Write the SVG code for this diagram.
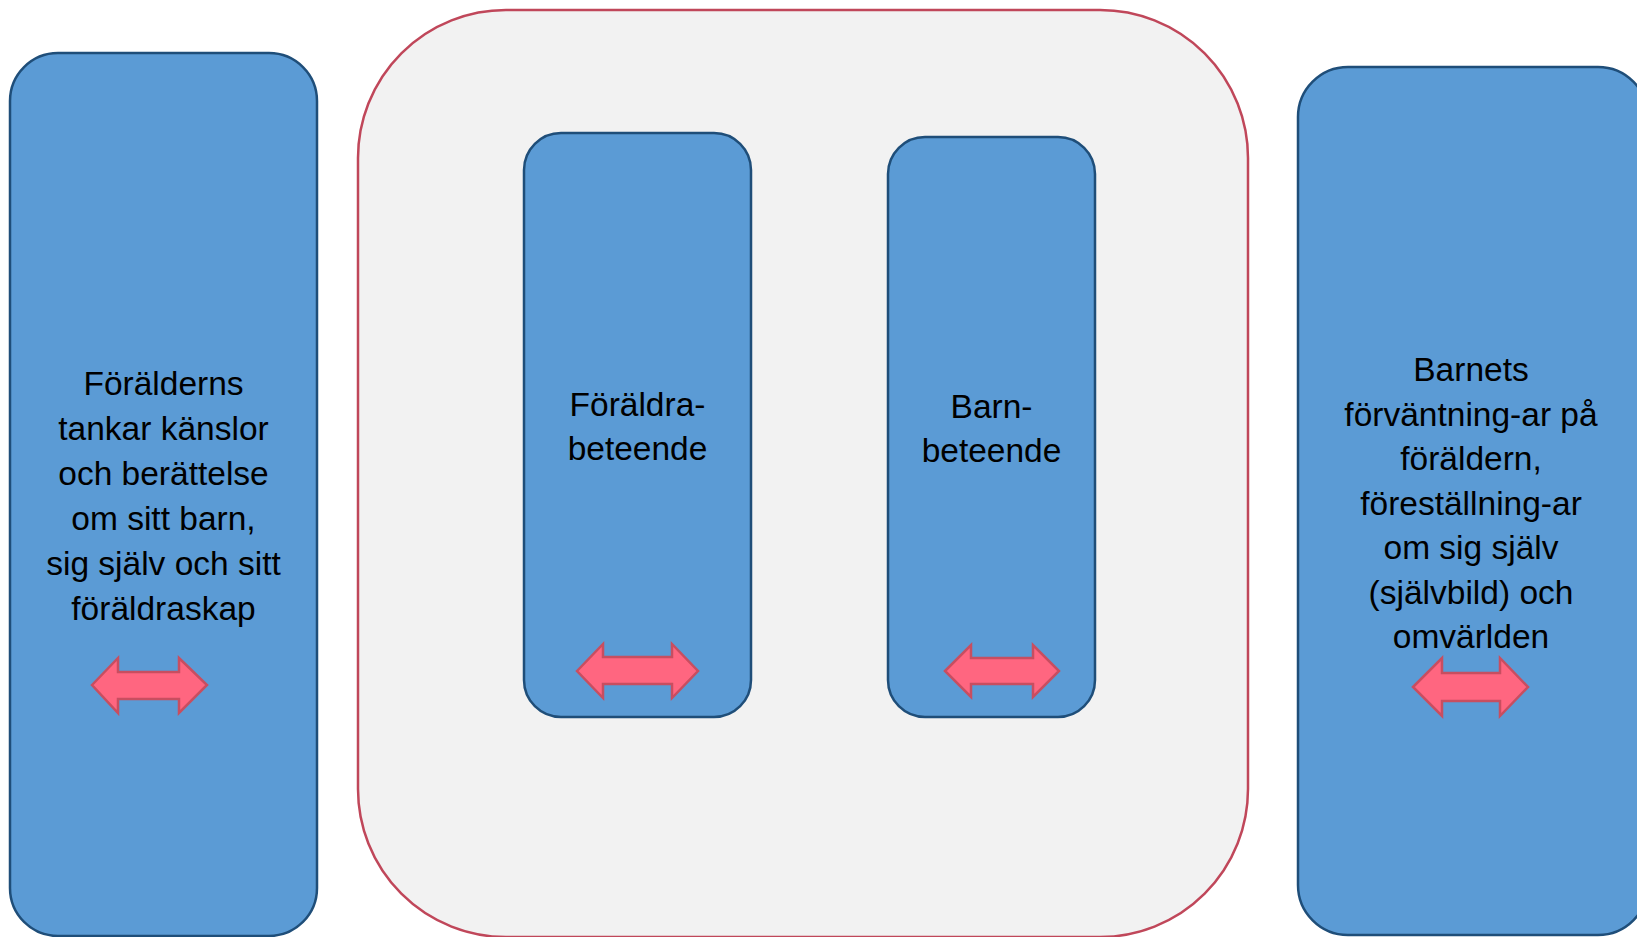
<svg xmlns="http://www.w3.org/2000/svg" width="1637" height="937" viewBox="0 0 1637 937">
<style>
.box{fill:#5B9BD5;stroke:#1F4E79;stroke-width:2.5}
.cont{fill:#F2F2F2;stroke:#C0475A;stroke-width:2.5}
.arr{fill:#FF6680;stroke:#C84E60;stroke-width:2.5;stroke-linejoin:miter}
.t{font-family:"Liberation Sans",Arial,sans-serif;font-size:33.5px;fill:#000;text-anchor:middle}
</style>
<rect width="1637" height="937" fill="#FFFFFF"/>
<g id="container">
<rect class="cont" x="358" y="10" width="890" height="927" rx="148" ry="148"/>
</g>
<g id="left">
<rect class="box" x="10" y="53" width="307" height="883" rx="48" ry="48"/>
<text class="t" x="163.5" y="395">Förälderns</text>
<text class="t" x="163.5" y="440">tankar känslor</text>
<text class="t" x="163.5" y="485">och berättelse</text>
<text class="t" x="163.5" y="530">om sitt barn,</text>
<text class="t" x="163.5" y="575">sig själv och sitt</text>
<text class="t" x="163.5" y="620">föräldraskap</text>
</g>
<g id="foraldra">
<rect class="box" x="524" y="133" width="227" height="584" rx="37" ry="37"/>
<text class="t" x="637.5" y="416">Föräldra-</text>
<text class="t" x="637.5" y="460">beteende</text>
</g>
<g id="barn">
<rect class="box" x="888" y="137" width="207" height="580" rx="37" ry="37"/>
<text class="t" x="991.5" y="418">Barn-</text>
<text class="t" x="991.5" y="462">beteende</text>
</g>
<g id="right">
<rect class="box" x="1298" y="67" width="350" height="868" rx="50" ry="50"/>
<text class="t" x="1471" y="381">Barnets</text>
<text class="t" x="1471" y="425.5">förväntning-ar på</text>
<text class="t" x="1471" y="470">föräldern,</text>
<text class="t" x="1471" y="514.5">föreställning-ar</text>
<text class="t" x="1471" y="559">om sig själv</text>
<text class="t" x="1471" y="603.5">(självbild) och</text>
<text class="t" x="1471" y="648">omvärlden</text>
</g>
<g id="connectors">
<polygon class="arr" points="92,685 118,658 118,672 179,672 179,658 207,685 179,713 179,699 118,699 118,713"/>
<polygon class="arr" points="577,671 603,644 603,657 672,657 672,644 698,671 672,698 672,684 603,684 603,698"/>
<polygon class="arr" points="945,671 971,645 971,658 1033,658 1033,645 1059,671 1033,697 1033,684 971,684 971,697"/>
<polygon class="arr" points="1413,687 1442,658 1442,673 1500,673 1500,658 1528,687 1500,716 1500,701 1442,701 1442,716"/>
</g>
</svg>
